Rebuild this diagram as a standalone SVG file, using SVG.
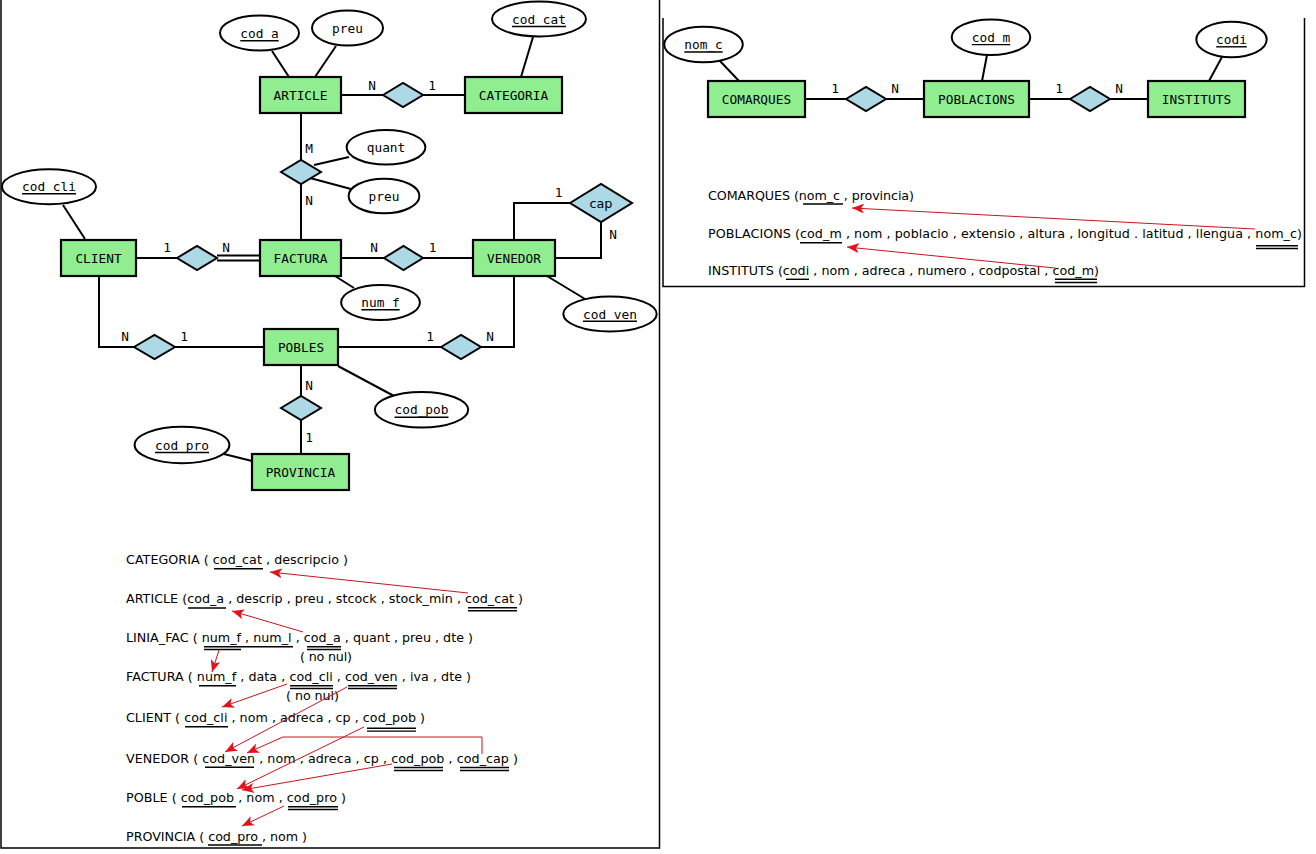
<svg xmlns="http://www.w3.org/2000/svg" width="1316" height="854" viewBox="0 0 1316 854">
  <defs>
    <style>
      .ent rect { fill: #90ee90; stroke: #000; stroke-width: 2.2; }
      .rel polygon { fill: #add8e6; stroke: #000; stroke-width: 2; }
      .attr ellipse { fill: #fff; stroke: #000; stroke-width: 2; }
      .er { font-family: "DejaVu Sans Mono", "Liberation Mono", monospace; font-size: 12.8px; fill: #000; }
      .mid { text-anchor: middle; }
      .lbl { font-family: "DejaVu Sans Mono", "Liberation Mono", monospace; font-size: 12.8px; fill: #000; text-anchor: middle; }
      .conn line, .conn path { stroke: #000; stroke-width: 2; fill: none; }
      .ul { stroke: #000; stroke-width: 1.4; }
      .rs { font-family: "DejaVu Sans", "Liberation Sans", sans-serif; font-size: 12.7px; fill: #000; }
      .fk { stroke: #c8141e; stroke-width: 1; fill: none; marker-end: url(#fkHead); }
      .frame { stroke: #000; stroke-width: 1.5; fill: none; }
    </style>
    <marker id="fkHead" viewBox="0 0 12 10" refX="12" refY="5" markerWidth="12" markerHeight="10" markerUnits="userSpaceOnUse" orient="auto">
      <path d="M0,0 L12,5 L0,10 L3,5 z" fill="#e3121c"/>
    </marker>
  </defs>

  <rect x="0" y="0" width="1316" height="854" fill="#fff"/>

  <!-- panel frames -->
  <path class="frame" d="M1,0 V848 H659.5 V0"/>
  <path class="frame" d="M663,18 V286.5 H1304.5 V18"/>

  <!-- ===== connectors (left ER model) ===== -->
  <g id="connectors" class="conn">
    <line x1="272" y1="51" x2="289" y2="77"/>
    <line x1="336" y1="46" x2="315" y2="77"/>
    <line x1="533" y1="37" x2="521" y2="77"/>
    <line x1="341" y1="95" x2="383" y2="95"/>
    <line x1="423" y1="95" x2="464" y2="95"/>
    <line x1="301" y1="113" x2="301" y2="160"/>
    <line x1="301" y1="184" x2="301" y2="239"/>
    <line x1="314" y1="165" x2="349" y2="157"/>
    <line x1="310" y1="178" x2="351" y2="189"/>
    <line x1="63" y1="205" x2="85" y2="239"/>
    <line x1="136" y1="258" x2="177" y2="258"/>
    <line x1="217" y1="255.5" x2="260" y2="255.5"/>
    <line x1="217" y1="260.5" x2="260" y2="260.5"/>
    <line x1="341" y1="258" x2="384" y2="258"/>
    <line x1="423" y1="258" x2="473" y2="258"/>
    <path d="M514,239 V203 H570"/>
    <path d="M601,222 V258 H555"/>
    <line x1="335" y1="276" x2="354" y2="288"/>
    <line x1="547" y1="276" x2="585" y2="299"/>
    <path d="M99,276 V347 H134"/>
    <line x1="175" y1="347" x2="264" y2="347"/>
    <line x1="338" y1="347" x2="441" y2="347"/>
    <path d="M481,347 H514 V276"/>
    <line x1="301" y1="365" x2="301" y2="396"/>
    <line x1="301" y1="420" x2="301" y2="454"/>
    <line x1="338" y1="366" x2="394" y2="396"/>
    <line x1="224" y1="454" x2="252" y2="461"/>
    <!-- right ER model -->
    <line x1="720" y1="61" x2="739" y2="81"/>
    <line x1="805" y1="99" x2="846" y2="99"/>
    <line x1="886" y1="99" x2="924" y2="99"/>
    <line x1="987" y1="55" x2="982" y2="81"/>
    <line x1="1029" y1="99" x2="1070" y2="99"/>
    <line x1="1110" y1="99" x2="1148" y2="99"/>
    <line x1="1222" y1="57" x2="1209" y2="81"/>
  </g>

  <!-- ===== entities ===== -->
  <g id="ent-article" class="ent"><rect x="260" y="77" width="81" height="36"/><text class="er mid" x="300.5" y="99.7">ARTICLE</text></g>
  <g id="ent-categoria" class="ent"><rect x="465" y="77" width="97" height="36"/><text class="er mid" x="513.5" y="99.7">CATEGORIA</text></g>
  <g id="ent-client" class="ent"><rect x="61" y="240" width="75" height="36"/><text class="er mid" x="98.5" y="262.7">CLIENT</text></g>
  <g id="ent-factura" class="ent"><rect x="260" y="240" width="81" height="36"/><text class="er mid" x="300.5" y="262.7">FACTURA</text></g>
  <g id="ent-venedor" class="ent"><rect x="473" y="240" width="82" height="36"/><text class="er mid" x="514" y="262.7">VENEDOR</text></g>
  <g id="ent-pobles" class="ent"><rect x="264" y="329" width="74" height="36"/><text class="er mid" x="301" y="351.7">POBLES</text></g>
  <g id="ent-provincia" class="ent"><rect x="252" y="454" width="97" height="36"/><text class="er mid" x="300.5" y="476.7">PROVINCIA</text></g>
  <g id="ent-comarques" class="ent"><rect x="708" y="81" width="97" height="36"/><text class="er mid" x="756.5" y="103.7">COMARQUES</text></g>
  <g id="ent-poblacions" class="ent"><rect x="924" y="81" width="105" height="36"/><text class="er mid" x="976.5" y="103.7">POBLACIONS</text></g>
  <g id="ent-instituts" class="ent"><rect x="1148" y="81" width="97" height="36"/><text class="er mid" x="1196.5" y="103.7">INSTITUTS</text></g>

  <!-- ===== relationships ===== -->
  <g id="rel-article-categoria" class="rel"><polygon points="383,95 403,83 423,95 403,107"/>
    <text class="lbl" x="372" y="89.5">N</text><text class="lbl" x="432" y="89.5">1</text></g>
  <g id="rel-linia-fac" class="rel"><polygon points="281,172 301,160 321,172 301,184"/>
    <text class="lbl" x="309" y="153">M</text><text class="lbl" x="309" y="205">N</text></g>
  <g id="rel-client-factura" class="rel"><polygon points="177,258 197,246 217,258 197,270"/>
    <text class="lbl" x="167" y="252">1</text><text class="lbl" x="226" y="252">N</text></g>
  <g id="rel-factura-venedor" class="rel"><polygon points="384,258 403.5,246 423,258 403.5,270"/>
    <text class="lbl" x="374" y="252">N</text><text class="lbl" x="432.5" y="252">1</text></g>
  <g id="rel-cap" class="rel"><polygon points="570,203 601,184 632,203 601,222"/>
    <text x="601" y="207.5" class="mid" style="font-family:'DejaVu Sans','Liberation Sans',sans-serif;font-size:12.8px;fill:#000">cap</text>
    <text class="lbl" x="558.5" y="197">1</text><text class="lbl" x="613" y="239">N</text></g>
  <g id="rel-client-pobles" class="rel"><polygon points="134,347 154.5,335 175,347 154.5,359"/>
    <text class="lbl" x="125" y="341">N</text><text class="lbl" x="184" y="341">1</text></g>
  <g id="rel-pobles-venedor" class="rel"><polygon points="441,347 461,335 481,347 461,359"/>
    <text class="lbl" x="430" y="341">1</text><text class="lbl" x="490" y="341">N</text></g>
  <g id="rel-pobles-provincia" class="rel"><polygon points="281,408 301,396 321,408 301,420"/>
    <text class="lbl" x="309" y="390">N</text><text class="lbl" x="309" y="442">1</text></g>
  <g id="rel-comarques-poblacions" class="rel"><polygon points="846,99 866,87 886,99 866,111"/>
    <text class="lbl" x="835" y="93">1</text><text class="lbl" x="895" y="93">N</text></g>
  <g id="rel-poblacions-instituts" class="rel"><polygon points="1070,99 1090,87 1110,99 1090,111"/>
    <text class="lbl" x="1059" y="93">1</text><text class="lbl" x="1119" y="93">N</text></g>

  <!-- ===== attributes ===== -->
  <g id="attr-article-cod_a" class="attr"><ellipse cx="259.5" cy="33" rx="39.5" ry="17.5"/>
    <text class="er mid" x="259.5" y="37.5">cod_a</text><line class="ul" x1="240.3" y1="40.7" x2="278.7" y2="40.7"/></g>
  <g id="attr-article-preu" class="attr"><ellipse cx="347.5" cy="28" rx="35.5" ry="17.5"/>
    <text class="er mid" x="347.5" y="32.5">preu</text></g>
  <g id="attr-categoria-cod_cat" class="attr"><ellipse cx="539" cy="19" rx="47" ry="17.5"/>
    <text class="er mid" x="539" y="23.5">cod_cat</text><line class="ul" x1="512" y1="26.5" x2="566" y2="26.5"/></g>
  <g id="attr-linia-quant" class="attr"><ellipse cx="386" cy="147.3" rx="39.4" ry="17.3"/>
    <text class="er mid" x="386" y="151.5">quant</text></g>
  <g id="attr-linia-preu" class="attr"><ellipse cx="384" cy="196" rx="35.4" ry="17.3"/>
    <text class="er mid" x="384" y="200.5">preu</text></g>
  <g id="attr-client-cod_cli" class="attr"><ellipse cx="49" cy="186.7" rx="47" ry="17.5"/>
    <text class="er mid" x="49" y="191">cod_cli</text><line class="ul" x1="22" y1="193.7" x2="76" y2="193.7"/></g>
  <g id="attr-factura-num_f" class="attr"><ellipse cx="380.5" cy="302.5" rx="39.4" ry="17.5"/>
    <text class="er mid" x="380.5" y="307">num_f</text><line class="ul" x1="361.3" y1="309.7" x2="399.7" y2="309.7"/></g>
  <g id="attr-venedor-cod_ven" class="attr"><ellipse cx="610" cy="314" rx="46.7" ry="17.5"/>
    <text class="er mid" x="610" y="318.5">cod_ven</text><line class="ul" x1="583" y1="321.2" x2="637" y2="321.2"/></g>
  <g id="attr-pobles-cod_pob" class="attr"><ellipse cx="421.5" cy="409.8" rx="46.7" ry="17.8"/>
    <text class="er mid" x="421.5" y="414.3">cod_pob</text><line class="ul" x1="394.5" y1="417.3" x2="448.5" y2="417.3"/></g>
  <g id="attr-provincia-cod_pro" class="attr"><ellipse cx="182" cy="445" rx="47.4" ry="18.2"/>
    <text class="er mid" x="182" y="449.5">cod_pro</text><line class="ul" x1="155" y1="452.5" x2="209" y2="452.5"/></g>
  <g id="attr-comarques-nom_c" class="attr"><ellipse cx="703.5" cy="44.5" rx="39.3" ry="17.8"/>
    <text class="er mid" x="703.5" y="49">nom_c</text><line class="ul" x1="684.3" y1="52" x2="722.7" y2="52"/></g>
  <g id="attr-poblacions-cod_m" class="attr"><ellipse cx="991" cy="37.2" rx="39.3" ry="17.8"/>
    <text class="er mid" x="991" y="41.7">cod_m</text><line class="ul" x1="971.8" y1="44.6" x2="1010.2" y2="44.6"/></g>
  <g id="attr-instituts-codi" class="attr"><ellipse cx="1231.5" cy="39.5" rx="35.2" ry="17.8"/>
    <text class="er mid" x="1231.5" y="44">codi</text><line class="ul" x1="1216.2" y1="46.8" x2="1246.8" y2="46.8"/></g>

  <!-- ===== relational schema (left) ===== -->
  <g id="schema-left">
    <text class="rs" x="126" y="564" textLength="222" lengthAdjust="spacing">CATEGORIA ( cod_cat , descripcio )</text>
    <line class="ul" x1="214" y1="568.7" x2="263" y2="568.7"/>

    <text class="rs" x="126" y="603" textLength="397" lengthAdjust="spacing">ARTICLE (cod_a , descrip , preu , stcock , stock_min , cod_cat )</text>
    <line class="ul" x1="188" y1="608" x2="226" y2="608"/>
    <line class="ul" x1="468" y1="607.7" x2="517" y2="607.7"/>
    <line class="ul" x1="468" y1="610.7" x2="517" y2="610.7"/>

    <text class="rs" x="126" y="642" textLength="347" lengthAdjust="spacing">LINIA_FAC ( num_f , num_l , cod_a , quant , preu , dte )</text>
    <line class="ul" x1="204" y1="646.7" x2="293" y2="646.7"/>
    <line class="ul" x1="204" y1="649.5" x2="241" y2="649.5"/>
    <line class="ul" x1="307" y1="646.7" x2="341" y2="646.7"/>
    <line class="ul" x1="307" y1="649.5" x2="341" y2="649.5"/>
    <text class="rs" x="300" y="660.5" textLength="52" lengthAdjust="spacing">( no nul)</text>

    <text class="rs" x="126" y="680.5" textLength="345" lengthAdjust="spacing">FACTURA ( num_f , data , cod_cli , cod_ven , iva , dte )</text>
    <line class="ul" x1="199" y1="685.7" x2="236" y2="685.7"/>
    <line class="ul" x1="290" y1="685.7" x2="333" y2="685.7"/>
    <line class="ul" x1="290" y1="688.5" x2="333" y2="688.5"/>
    <line class="ul" x1="348" y1="685.7" x2="397" y2="685.7"/>
    <line class="ul" x1="348" y1="688.5" x2="397" y2="688.5"/>
    <text class="rs" x="286" y="699.5" textLength="53" lengthAdjust="spacing">( no nul)</text>

    <text class="rs" x="126" y="722" textLength="299" lengthAdjust="spacing">CLIENT ( cod_cli , nom , adreca , cp , cod_pob )</text>
    <line class="ul" x1="185" y1="726.7" x2="228" y2="726.7"/>
    <line class="ul" x1="367" y1="728.3" x2="416" y2="728.3"/>
    <line class="ul" x1="367" y1="731.1" x2="416" y2="731.1"/>

    <text class="rs" x="126" y="763" textLength="392" lengthAdjust="spacing">VENEDOR ( cod_ven , nom , adreca , cp , cod_pob , cod_cap )</text>
    <line class="ul" x1="205" y1="767.3" x2="254" y2="767.3"/>
    <line class="ul" x1="394" y1="767.5" x2="443" y2="767.5"/>
    <line class="ul" x1="394" y1="770.5" x2="443" y2="770.5"/>
    <line class="ul" x1="460" y1="767.5" x2="509" y2="767.5"/>
    <line class="ul" x1="460" y1="770.5" x2="509" y2="770.5"/>

    <text class="rs" x="126" y="802" textLength="220" lengthAdjust="spacing">POBLE ( cod_pob , nom , cod_pro )</text>
    <line class="ul" x1="182" y1="806.7" x2="236" y2="806.7"/>
    <line class="ul" x1="288" y1="806.7" x2="338" y2="806.7"/>
    <line class="ul" x1="288" y1="809.5" x2="338" y2="809.5"/>

    <text class="rs" x="126" y="840.5" textLength="181" lengthAdjust="spacing">PROVINCIA ( cod_pro , nom )</text>
    <line class="ul" x1="208" y1="845" x2="262" y2="845"/>

    <!-- foreign key references -->
    <line class="fk" x1="468" y1="593" x2="270" y2="572"/>
    <line class="fk" x1="303" y1="632" x2="232" y2="611"/>
    <line class="fk" x1="219" y1="650" x2="212" y2="672"/>
    <line class="fk" x1="287" y1="684" x2="222" y2="707"/>
    <line class="fk" x1="347" y1="687" x2="225" y2="752"/>
    <line class="fk" x1="364" y1="727" x2="237" y2="789"/>
    <polyline class="fk" points="482,754 482,737 283,737 247,753"/>
    <line class="fk" x1="392" y1="764" x2="242" y2="790"/>
    <line class="fk" x1="284" y1="806" x2="242" y2="826"/>
  </g>

  <!-- ===== relational schema (right) ===== -->
  <g id="schema-right">
    <text class="rs" x="708" y="199.5" textLength="206" lengthAdjust="spacing">COMARQUES (nom_c , provincia)</text>
    <line class="ul" x1="803" y1="204" x2="843" y2="204"/>

    <text class="rs" x="708" y="238.3" textLength="594" lengthAdjust="spacing">POBLACIONS (cod_m , nom , poblacio , extensio , altura , longitud . latitud , llengua , nom_c)</text>
    <line class="ul" x1="800" y1="242.7" x2="842" y2="242.7"/>
    <line class="ul" x1="1256" y1="245.7" x2="1298" y2="245.7"/>
    <line class="ul" x1="1256" y1="248.5" x2="1298" y2="248.5"/>

    <text class="rs" x="708" y="275" textLength="391" lengthAdjust="spacing">INSTITUTS (codi , nom , adreca , numero , codpostal , cod_m)</text>
    <line class="ul" x1="786" y1="279.3" x2="809" y2="279.3"/>
    <line class="ul" x1="1055" y1="279.3" x2="1097" y2="279.3"/>
    <line class="ul" x1="1055" y1="282.5" x2="1097" y2="282.5"/>

    <line class="fk" x1="1255" y1="229" x2="852" y2="208"/>
    <line class="fk" x1="1055" y1="268" x2="847" y2="247"/>
  </g>
</svg>
